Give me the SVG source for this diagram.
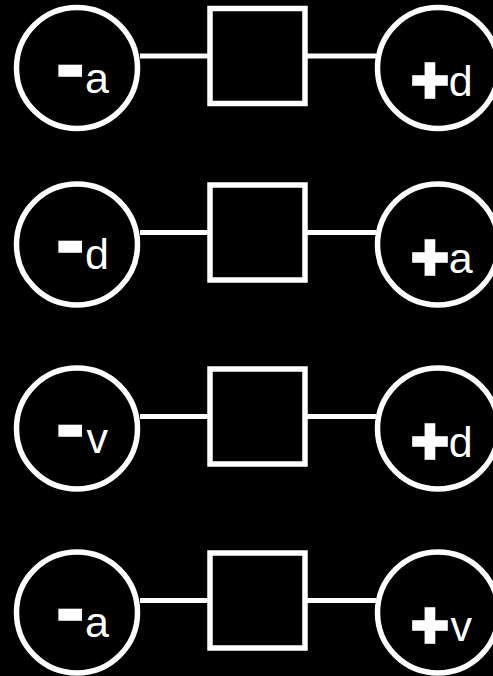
<svg xmlns="http://www.w3.org/2000/svg" width="493" height="676" viewBox="0 0 493 676">
<style>
.ring{fill:none;stroke:#fff;stroke-width:5.5}
.box{fill:none;stroke:#fff;stroke-width:5.5}
.wire{fill:none;stroke:#fff;stroke-width:5}
.lbl{font-family:"Liberation Sans",Arial,Helvetica,sans-serif;fill:#fff}
.minus{font-weight:bold;font-size:87px;stroke:#fff;stroke-width:1.5}
.plus{font-weight:bold;font-size:64px;stroke:#fff;stroke-width:3.5;stroke-linejoin:miter}
.var{font-weight:normal;font-size:43px}
</style>
<rect x="0" y="0" width="493" height="676" fill="#000"/>
<g id="connectors">
<line class="wire" x1="140" y1="56" x2="210" y2="56"/>
<line class="wire" x1="305" y1="56" x2="376" y2="56"/>
<line class="wire" x1="140" y1="232.5" x2="210" y2="232.5"/>
<line class="wire" x1="305" y1="232.5" x2="376" y2="232.5"/>
<line class="wire" x1="140" y1="416.5" x2="210" y2="416.5"/>
<line class="wire" x1="305" y1="416.5" x2="376" y2="416.5"/>
<line class="wire" x1="140" y1="600.5" x2="210" y2="600.5"/>
<line class="wire" x1="305" y1="600.5" x2="376" y2="600.5"/>
</g>
<g id="row1-left"><circle class="ring" cx="77" cy="68" r="60.5"/><text class="lbl"><tspan class="minus" x="55.8" y="92.5">-</tspan><tspan class="var" x="85" y="92.7">a</tspan></text></g>
<g id="row1-box"><rect class="box" x="210" y="8.5" width="95" height="95"/></g>
<g id="row1-right"><circle class="ring" cx="438" cy="68" r="60.5"/><text class="lbl"><tspan class="plus" x="411.2" y="102.4">+</tspan><tspan class="var" x="448.7" y="96">d</tspan></text></g>
<g id="row2-left"><circle class="ring" cx="77" cy="244.5" r="60.5"/><text class="lbl"><tspan class="minus" x="55.8" y="269">-</tspan><tspan class="var" x="85" y="269.2">d</tspan></text></g>
<g id="row2-box"><rect class="box" x="210" y="185" width="95" height="95"/></g>
<g id="row2-right"><circle class="ring" cx="438" cy="244.5" r="60.5"/><text class="lbl"><tspan class="plus" x="411.2" y="278.9">+</tspan><tspan class="var" x="448.7" y="272.5">a</tspan></text></g>
<g id="row3-left"><circle class="ring" cx="77" cy="428.5" r="60.5"/><text class="lbl"><tspan class="minus" x="55.8" y="453">-</tspan><tspan class="var" x="86.5" y="453.2">v</tspan></text></g>
<g id="row3-box"><rect class="box" x="210" y="369" width="95" height="95"/></g>
<g id="row3-right"><circle class="ring" cx="438" cy="428.5" r="60.5"/><text class="lbl"><tspan class="plus" x="411.2" y="462.9">+</tspan><tspan class="var" x="448.7" y="456.5">d</tspan></text></g>
<g id="row4-left"><circle class="ring" cx="77" cy="612.5" r="60.5"/><text class="lbl"><tspan class="minus" x="55.8" y="637">-</tspan><tspan class="var" x="85" y="637.2">a</tspan></text></g>
<g id="row4-box"><rect class="box" x="210" y="553" width="95" height="95"/></g>
<g id="row4-right"><circle class="ring" cx="438" cy="612.5" r="60.5"/><text class="lbl"><tspan class="plus" x="411.2" y="646.9">+</tspan><tspan class="var" x="450.5" y="640.5">v</tspan></text></g>
</svg>
